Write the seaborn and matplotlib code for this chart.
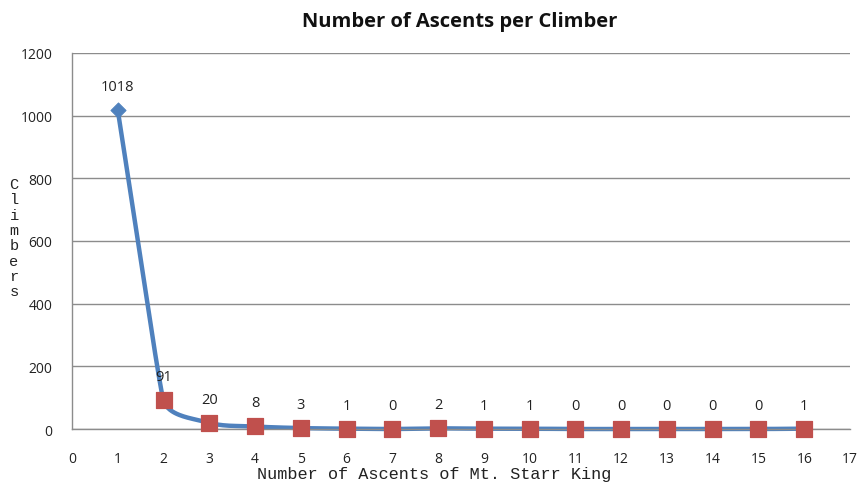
import numpy as np
import pandas as pd
import matplotlib
matplotlib.use("Agg")
import matplotlib.pyplot as plt
import seaborn as sns

# data
ascents = [1, 2, 3, 4, 5, 6, 7, 8, 9, 10, 11, 12, 13, 14, 15, 16]
climbers = [1018, 91, 20, 8, 3, 1, 0, 2, 1, 1, 0, 0, 0, 0, 0, 1]

df = pd.DataFrame({"ascents": ascents, "climbers": climbers})

# rough pixel per unit, so the smoothing is done in screen-like space
SX, SY = 778 / 17, 376 / 1200


def smooth_curve(xs, ys, n=40):
    # bezier smoothing like the spreadsheet "smoothed line" option
    pts = np.column_stack([np.asarray(xs, float) * SX, np.asarray(ys, float) * SY])
    segs = np.linalg.norm(np.diff(pts, axis=0), axis=1)
    out = []
    for i in range(len(pts) - 1):
        p0, p3 = pts[i], pts[i + 1]
        prev = pts[i - 1] if i > 0 else p0
        nxt = pts[i + 2] if i + 2 < len(pts) else p3
        d0 = (p3 - prev) / np.linalg.norm(p3 - prev)
        d1 = (nxt - p0) / np.linalg.norm(nxt - p0)
        a0 = min(segs[i], segs[i - 1] if i > 0 else segs[i]) / 3
        a1 = min(segs[i], segs[i + 1] if i + 1 < len(segs) else segs[i]) / 3
        p1 = p0 + d0 * a0
        p2 = p3 - d1 * a1
        t = np.linspace(0, 1, n)[:, None]
        out.append((1 - t) ** 3 * p0 + 3 * (1 - t) ** 2 * t * p1
                   + 3 * (1 - t) * t ** 2 * p2 + t ** 3 * p3)
    out = np.vstack(out)
    return pd.DataFrame({"x": out[:, 0] / SX, "y": out[:, 1] / SY})


curve = smooth_curve(ascents, climbers)

sns.set_theme(style="white")
plt.rcParams["font.family"] = ["Open Sans", "DejaVu Sans"]

fig = plt.figure(figsize=(8.64, 4.85), dpi=100)
ax = fig.add_axes([0.0833, 0.1134, 0.9005, 0.7753])

sns.lineplot(data=curve, x="x", y="y", ax=ax, color="#4F81BD", linewidth=3.2,
             sort=False, estimator=None, clip_on=False)
sns.scatterplot(data=df.iloc[:1], x="ascents", y="climbers", ax=ax, marker="D",
                s=60, color="#4F81BD", edgecolor="#4F81BD", zorder=4, clip_on=False)
sns.scatterplot(data=df.iloc[1:], x="ascents", y="climbers", ax=ax, marker="s",
                s=120, color="#C0504D", edgecolor="#C0504D", zorder=4, clip_on=False)

for x, y in zip(ascents, climbers):
    ax.annotate(str(y), (x, y), xytext=(0, 17), textcoords="offset points",
                ha="center", va="center", fontsize=10.5, color="#222222")

ax.set_xlim(0, 17)
ax.set_ylim(0, 1200)
ax.set_xticks(range(0, 18))
ax.set_yticks(range(0, 1201, 200))
ax.yaxis.grid(True, color="#8c8c8c", linewidth=1)
ax.set_axisbelow(True)
for side in ["top", "right"]:
    ax.spines[side].set_visible(False)
for side in ["left", "bottom"]:
    ax.spines[side].set_color("#8c8c8c")
    ax.spines[side].set_linewidth(1)
ax.tick_params(axis="both", which="both", direction="out", length=6, width=1,
               color="#8c8c8c", labelsize=10, labelcolor="#222222", pad=8)
ax.tick_params(axis="x", pad=10)

ax.set_xlabel("Number of Ascents of Mt. Starr King", family="Liberation Mono",
              fontsize=12.2, color="#222222", va="center")
ax.xaxis.set_label_coords(0.465, -0.118)
ax.set_ylabel("")
fig.text(0.0162, 0.508, "\n".join("Climbers"), family="Liberation Mono",
         fontsize=11, color="#222222", ha="center", va="center", linespacing=1.12)

fig.suptitle("Number of Ascents per Climber", x=0.532, y=0.975, fontsize=14.5,
             fontweight="bold", color="#111111")

plt.savefig("out.png", dpi=100)
plt.close()
